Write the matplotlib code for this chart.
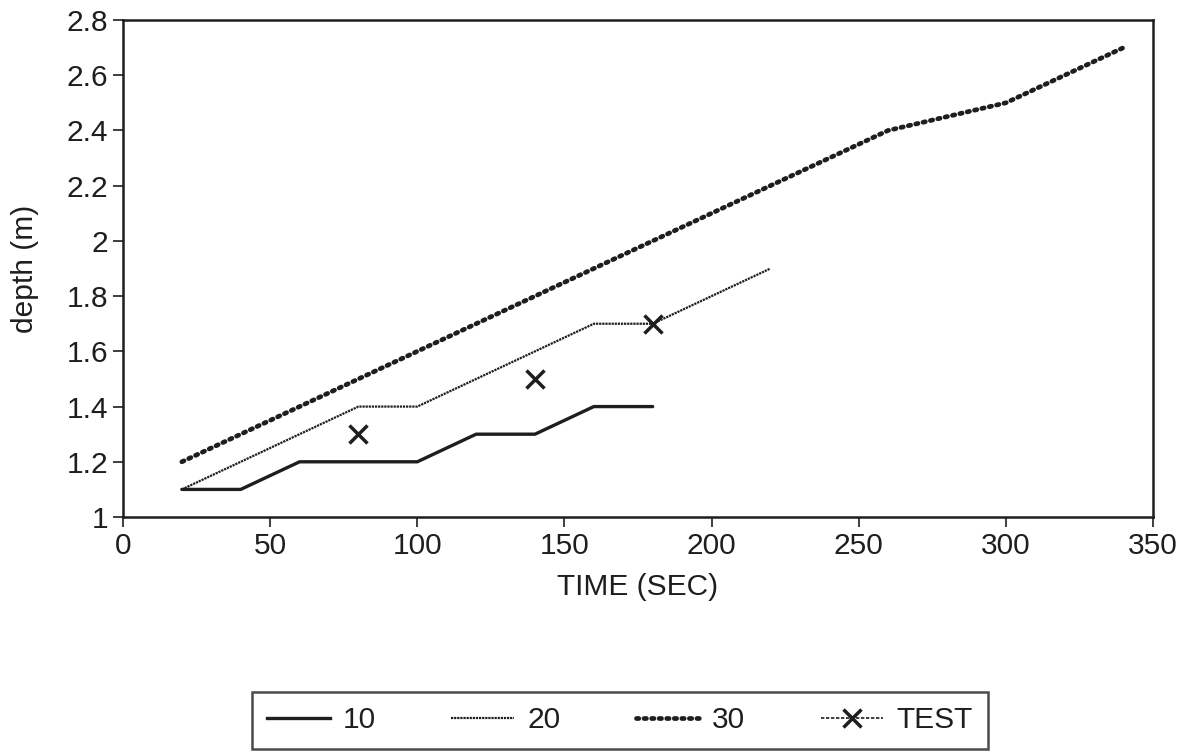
import matplotlib
matplotlib.use("Agg")
from matplotlib import pyplot as plt
from matplotlib.lines import Line2D

plt.rcParams['font.family'] = ['Liberation Sans', 'DejaVu Sans']

# series
t10 = [20, 40, 60, 100, 120, 140, 160, 180]
d10 = [1.1, 1.1, 1.2, 1.2, 1.3, 1.3, 1.4, 1.4]

t20 = [20, 80, 100, 160, 180, 220]
d20 = [1.1, 1.4, 1.4, 1.7, 1.7, 1.9]

t30 = [20, 40, 60, 80, 100, 120, 140, 160, 180, 200, 220, 240, 260, 280, 300, 320, 340]
d30 = [1.2, 1.3, 1.4, 1.5, 1.6, 1.7, 1.8, 1.9, 2.0, 2.1, 2.2, 2.3, 2.4, 2.45, 2.5, 2.6, 2.7]

t_test = [80, 140, 180]
d_test = [1.3, 1.5, 1.7]

labels = ['10', '20', '30', 'TEST']
xticks = [0, 50, 100, 150, 200, 250, 300, 350]
yticks = [1, 1.2, 1.4, 1.6, 1.8, 2, 2.2, 2.4, 2.6, 2.8]

ink = '#1e1e1e'
fs = 21.5
dots20 = (0, (1, 0.4))
dots30 = (0, (0.5, 1.1))

fig = plt.figure(figsize=(12, 7.55), dpi=100)
ax = fig.add_axes([0.1025, 0.3152, 0.8583, 0.6583])

ax.plot(t10, d10, color=ink, lw=2.4, solid_capstyle='round', label=labels[0])
ax.plot(t20, d20, color=ink, lw=1.6, linestyle=dots20, label=labels[1])
ax.plot(t30, d30, color=ink, lw=3.4, linestyle=dots30,
        dash_capstyle='round', label=labels[2])
ax.plot(t_test, d_test, color=ink, linestyle='none', marker='x',
        markersize=13.5, markeredgewidth=2.5)

ax.set_xlim(0, 350)
ax.set_ylim(1, 2.8)
ax.set_xticks(xticks)
ax.set_yticks(yticks)
ax.set_yticklabels([('%g' % v) for v in yticks])
ax.tick_params(direction='out', length=7.5, width=1.2, labelsize=fs, colors=ink, pad=3)
for s in ax.spines.values():
    s.set_linewidth(1.8)
    s.set_color(ink)

ax.set_xlabel('TIME (SEC)', fontsize=fs, color=ink, labelpad=10)
ax.set_ylabel('depth (m)', fontsize=fs, color=ink, labelpad=20)

handles = [
    Line2D([], [], color=ink, lw=2.4),
    Line2D([], [], color=ink, lw=1.6, linestyle=dots20),
    Line2D([], [], color=ink, lw=3.4, linestyle=dots30, dash_capstyle='round'),
    Line2D([], [], color=ink, lw=1.2, linestyle=(0, (2, 1)), marker='x',
           markersize=13.5, markeredgewidth=2.5),
]
leg = fig.legend(handles, labels, ncol=4,
                 loc='center', bbox_to_anchor=(0.21, 0.004, 0.6133, 0.0834),
                 mode='expand', fontsize=fs, frameon=True, fancybox=False,
                 handlelength=2.1, handletextpad=0.45, borderaxespad=0,
                 borderpad=0.5)
leg.get_frame().set_edgecolor(ink)
leg.get_frame().set_linewidth(1.8)
for txt in leg.get_texts():
    txt.set_color(ink)

fig.savefig('out.png', dpi=100)
